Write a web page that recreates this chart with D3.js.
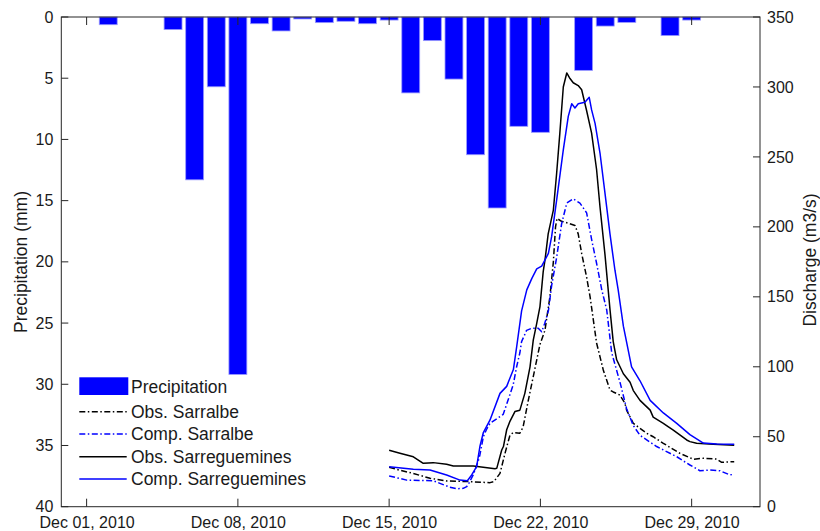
<!DOCTYPE html>
<html><head><meta charset="utf-8">
<script src="https://cdn.jsdelivr.net/npm/d3@7"></script>
<style>body{margin:0;background:#fff}svg text{font-family:"Liberation Sans",Arial,sans-serif;fill:#1a1a1a}</style>
</head><body><svg id="c" width="820" height="531"></svg>
<script>
// Daily precipitation (day of December 2010, mm)
const precipDays = [2,5,6,7,8,9,10,11,12,13,14,15,16,17,18,19,20,21,22,24,25,26,28,29];
const precipValues = [0.63,1.03,13.3,5.7,29.2,0.55,1.14,0.16,0.46,0.35,0.55,0.25,6.2,1.93,5.07,11.25,15.6,8.93,9.42,4.36,0.74,0.44,1.52,0.25];

// Discharge series: time as fractional day of December 2010, discharge m3/s
const obsSarralbeT = [15.0,15.5,16.12,16.89,17.66,18.74,19.67,19.85,20.13,20.36,20.5,20.59,20.74,21.05,21.2,21.44,21.67,21.98,22.21,22.44,22.6,22.7,22.77,22.98,23.29,23.6,23.75,23.91,24.14,24.3,24.6,24.91,25.22,25.37,25.68,25.91,25.99,26.3,26.92,27.22,27.69,28.46,29.08,29.54,30.16,30.39,30.97];
const obsSarralbeQ = [28.2,26,23.8,20.3,18.4,17.9,17.2,18,23.8,38,46,51,53,52.5,57,76,93,116,126,150,175,200,206,204,202.6,201,195,181,164,150,117,97.7,83.4,82,79.8,74,69,59.6,52.5,50,45.3,38.1,33.9,34.6,34,31.7,32.2];

const compSarralbeT = [15.0,15.81,16.4,17.04,17.35,17.8,18.13,18.43,18.59,18.7,18.89,19.13,19.2,19.36,19.5,19.67,20.28,20.74,20.9,21.05,21.13,21.36,21.6,21.9,22.06,22.2,22.37,22.52,22.6,22.75,22.98,23.22,23.52,23.83,24.14,24.37,24.6,24.84,25.07,25.3,25.7,25.99,26.3,26.61,27.38,28.31,28.92,29.38,29.85,30.31,30.77,30.97];
const compSarralbeQ = [22,19,18.8,18.6,16.7,14,12.8,13.1,14.3,17,22.7,33,37,50,55,59.6,66,87,100,110,118,126,127.5,127.5,125,131,140,158,165,178,202,217,220,217,210,191,174,155,140.6,110,88,70,58,51,43,35.7,29.8,25.7,26.2,25.7,22.7,23.2];

const obsSarregT = [15.0,15.5,16.12,16.58,17.04,17.66,17.97,18.9,19.9,19.98,20.21,20.29,20.44,20.59,20.82,21.05,21.28,21.52,21.67,21.83,21.98,22.13,22.21,22.29,22.36,22.6,22.75,22.9,23.06,23.22,23.37,23.52,23.75,23.91,24.14,24.37,24.6,24.76,24.99,25.22,25.37,25.53,25.84,26.15,26.3,26.61,27.08,27.22,27.69,27.84,28.15,28.77,28.92,29.23,30.0,30.97];
const obsSarregQ = [40.3,38.2,35.7,31,31.5,30.3,29.1,29.1,27.2,27.4,40.5,43,55,61,68,69,81,100,119,131,143,168,176,186,195,212,238,267,300,310,306,303,301,298,283,267,241,214,180,141,118,105,95,89,83,76,69,64,59.6,58,54.8,47.7,46.5,45.3,44.6,44];

const compSarregT = [15.0,16.12,16.89,17.66,18.28,18.62,18.82,19.05,19.2,19.36,19.67,20.13,20.44,20.75,20.9,21.13,21.37,21.6,21.83,22.06,22.37,22.52,22.75,23.06,23.29,23.45,23.6,23.75,24.06,24.26,24.37,24.53,24.76,24.99,25.22,25.45,25.6,25.84,26.22,26.61,27.08,27.69,28.31,28.92,29.54,30.16,30.97];
const compSarregQ = [28.6,26.7,26.2,22.7,19,18.6,22.7,28.6,43,53,62,81,86,98,114,140,155,163,170,172,181,193,219,255,279,288,285,288,289,292.6,283.6,274,252.6,224,195,169,155,129,100,90,76,67,59.6,51.5,45.5,44.8,44.6];

const xTickDays = [1,8,15,22,29];
const xTickLabels = ["Dec 01, 2010","Dec 08, 2010","Dec 15, 2010","Dec 22, 2010","Dec 29, 2010"];
const leftTicks = [0,5,10,15,20,25,30,35,40];
const rightTicks = [0,50,100,150,200,250,300,350];
const seriesNames = ["Obs. Sarralbe","Comp. Sarralbe","Obs. Sarreguemines","Comp. Sarreguemines"];
const seriesColors = ["#000000","#0000ff","#000000","#0000ff"];
const seriesDash = ["6,2.5,1.5,2.5","6,2.5,1.5,2.5",null,null];

const dayToDate = d => new Date(Date.UTC(2010,11,1) + (d-1)*86400000);

const L=61.3, R=760, T=17, B=506.7;
const svg = d3.select("#c");
const x = d3.scaleUtc().domain([dayToDate(1-1.172), dayToDate(1+31.163)]).range([L,R]);
const yP = d3.scaleLinear().domain([0,40]).range([T,B]);
const yQ = d3.scaleLinear().domain([0,350]).range([B,T]);
const axisColor = "#262626";

svg.append("defs").append("clipPath").attr("id","clip").append("rect")
  .attr("x",L).attr("y",T).attr("width",R-L).attr("height",B-T);

// bars
const dayPx = x(dayToDate(2)) - x(dayToDate(1));
const bw = dayPx*0.83;
svg.append("g").selectAll("rect").data(precipDays.map((d,i)=>({day:d,v:precipValues[i]}))).join("rect")
  .attr("x", d=>x(dayToDate(d.day))-bw/2).attr("y", yP(0)).attr("width", bw)
  .attr("height", d=>yP(d.v)-yP(0)).attr("fill","#0000ff").attr("stroke","#9a9aff").attr("stroke-width",0.8);

// lines
const series = [[obsSarralbeT,obsSarralbeQ],[compSarralbeT,compSarralbeQ],[obsSarregT,obsSarregQ],[compSarregT,compSarregQ]];
const line = d3.line().x(d=>x(dayToDate(d[0]))).y(d=>yQ(d[1]));
const gl = svg.append("g").attr("clip-path","url(#clip)");
series.forEach((s,i)=>{
  const pts = s[0].map((t,j)=>[t,s[1][j]]);
  gl.append("path").attr("d",line(pts)).attr("fill","none").attr("stroke",seriesColors[i])
    .attr("stroke-width",1.5).attr("stroke-dasharray",seriesDash[i]).attr("stroke-linejoin","round");
});

// frame
svg.append("rect").attr("x",L).attr("y",T).attr("width",R-L).attr("height",B-T)
  .attr("fill","none").attr("stroke",axisColor).attr("stroke-width",1);

// x axis ticks (bottom & top) and labels
const fs = 16;
const bottomAxis = d3.axisBottom(x).tickValues(xTickDays.map(dayToDate)).tickSize(0).tickFormat((d,i)=>xTickLabels[i]);
const gx = svg.append("g").attr("transform",`translate(0,${B})`).call(bottomAxis);
gx.select(".domain").remove();
gx.selectAll("text").attr("dy",null).attr("y",21.5).style("font-size",fs+"px").attr("fill","#1a1a1a");
xTickDays.forEach(d=>{
  const xx = x(dayToDate(d));
  svg.append("line").attr("x1",xx).attr("x2",xx).attr("y1",B).attr("y2",B-8).attr("stroke",axisColor);
  svg.append("line").attr("x1",xx).attr("x2",xx).attr("y1",T).attr("y2",T+8).attr("stroke",axisColor);
});

// left axis
const gL = svg.append("g").attr("transform",`translate(${L},0)`).call(d3.axisLeft(yP).tickValues(leftTicks).tickSize(0).tickPadding(8));
gL.select(".domain").remove();
gL.selectAll("text").style("font-size",fs+"px").attr("fill","#1a1a1a");
leftTicks.forEach(v=>svg.append("line").attr("x1",L).attr("x2",L+7).attr("y1",yP(v)).attr("y2",yP(v)).attr("stroke",axisColor));

// right axis
const gR = svg.append("g").attr("transform",`translate(${R},0)`).call(d3.axisRight(yQ).tickValues(rightTicks).tickSize(0).tickPadding(7));
gR.select(".domain").remove();
gR.selectAll("text").style("font-size",fs+"px").attr("fill","#1a1a1a");
rightTicks.forEach(v=>svg.append("line").attr("x1",R).attr("x2",R-7).attr("y1",yQ(v)).attr("y2",yQ(v)).attr("stroke",axisColor));

// axis titles
svg.append("text").attr("transform","translate(27,262) rotate(-90)").attr("text-anchor","middle")
  .style("font-size","17.5px").text("Precipitation (mm)");
svg.append("text").attr("transform","translate(816,260) rotate(-90)").attr("text-anchor","middle")
  .style("font-size","17.5px").text("Discharge (m3/s)");

// legend
const lg = svg.append("g");
lg.append("rect").attr("x",79.3).attr("y",377.3).attr("width",49).attr("height",17.7).attr("fill","#0000ff");
lg.append("text").attr("x",131).attr("y",392.5).style("font-size","17.5px").text("Precipitation");
const ly = [411.7,434,456.7,479];
seriesNames.forEach((n,i)=>{
  lg.append("line").attr("x1",79.3).attr("x2",126.7).attr("y1",ly[i]).attr("y2",ly[i])
    .attr("stroke",seriesColors[i]).attr("stroke-width",1.5).attr("stroke-dasharray",seriesDash[i]);
  lg.append("text").attr("x",131).attr("y",ly[i]+6.3).style("font-size","17.5px").text(n);
});
</script></body></html>
